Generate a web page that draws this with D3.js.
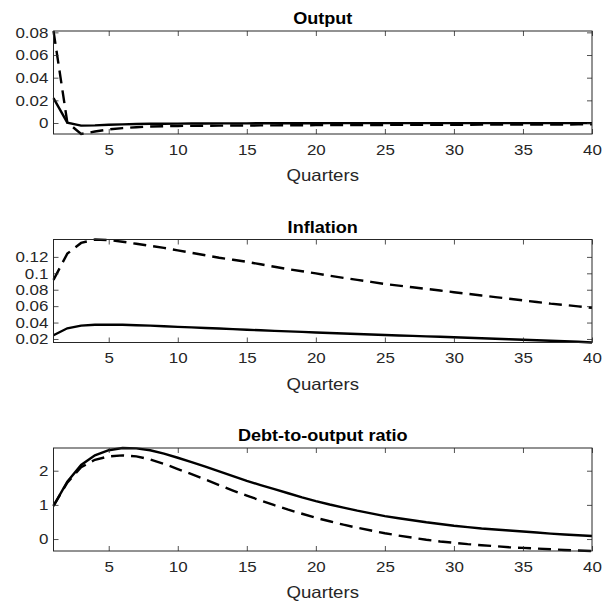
<!DOCTYPE html>
<html>
<head>
<meta charset="utf-8">
<title>Impulse responses</title>
<script src="https://d3js.org/d3.v7.min.js"></script>
<style>
  body { margin: 0; background: white; }
  text { font-family: "Liberation Sans", Arial, Helvetica, sans-serif; fill: #262626; }
  .title { font-weight: bold; fill: #000; }
</style>
</head>
<body>
<script>
// quarters 1..40
var quarters = d3.range(1, 41);

// output
var outputSolid = [0.022, 0.0003, -0.0023, -0.0021, -0.0016, -0.0012, -0.0009, -0.0007, -0.0006, -0.0005,
  -0.0004, -0.0004, -0.0003, -0.0003, -0.0003, -0.0002, -0.0002, -0.0002, -0.0002, -0.0002,
  -0.0001, -0.0001, -0.0001, -0.0001, -0.0001, -0.0001, -0.0001, -0.0001, -0.0001, -0.0001,
  -0.0001, -0.0001, -0.0001, -0.0001, -0.0001, -0.0001, -0.0001, -0.0001, -0.0001, -0.0001];
var outputDashed = [0.0812, 0.0005, -0.0097, -0.0075, -0.0057, -0.0045, -0.0037, -0.0031, -0.0028, -0.0026,
  -0.0025, -0.0024, -0.0023, -0.0022, -0.0022, -0.0021, -0.0021, -0.002, -0.002, -0.0019,
  -0.0019, -0.0018, -0.0018, -0.0017, -0.0017, -0.0016, -0.0016, -0.0016, -0.0015, -0.0015,
  -0.0015, -0.0014, -0.0014, -0.0014, -0.0013, -0.0013, -0.0013, -0.0013, -0.0012, -0.0012];

// inflation
var inflSolid = [0.0245, 0.033, 0.0363, 0.0373, 0.0375, 0.0373, 0.0368, 0.0362, 0.0355, 0.0348,
  0.0341, 0.0334, 0.0327, 0.032, 0.0313, 0.0306, 0.0299, 0.0292, 0.0286, 0.0279,
  0.0273, 0.0267, 0.0261, 0.0255, 0.0249, 0.0243, 0.0238, 0.0232, 0.0227, 0.0221,
  0.0215, 0.0209, 0.0203, 0.0197, 0.0191, 0.0185, 0.0179, 0.0173, 0.0166, 0.0157];
var inflDashed = [0.092, 0.124, 0.137, 0.1412, 0.1405, 0.1385, 0.136, 0.1335, 0.131, 0.128,
  0.125, 0.122, 0.119, 0.1165, 0.114, 0.111, 0.108, 0.105, 0.1025, 0.1,
  0.097, 0.0945, 0.092, 0.0895, 0.087, 0.085, 0.083, 0.081, 0.079, 0.077,
  0.075, 0.073, 0.071, 0.069, 0.067, 0.065, 0.063, 0.0615, 0.0597, 0.058];

// debt-to-output ratio
var debtSolid = [0.97, 1.68, 2.17, 2.45, 2.6, 2.665, 2.655, 2.6, 2.5, 2.38,
  2.25, 2.12, 1.98, 1.84, 1.7, 1.58, 1.46, 1.34, 1.22, 1.11,
  1.01, 0.92, 0.83, 0.75, 0.67, 0.61, 0.55, 0.49, 0.44, 0.39,
  0.35, 0.31, 0.28, 0.25, 0.22, 0.19, 0.16, 0.135, 0.11, 0.09];
var debtDashed = [0.97, 1.65, 2.1, 2.32, 2.42, 2.45, 2.42, 2.33, 2.2, 2.05,
  1.9, 1.74, 1.58, 1.42, 1.27, 1.13, 0.99, 0.86, 0.74, 0.62,
  0.52, 0.42, 0.33, 0.25, 0.17, 0.1, 0.04, -0.02, -0.07, -0.11,
  -0.15, -0.18, -0.21, -0.24, -0.26, -0.28, -0.3, -0.32, -0.335, -0.35];

var xTicks = [5, 10, 15, 20, 25, 30, 35, 40];
var outputTicks = [0, 0.02, 0.04, 0.06, 0.08];
var inflTicks = [0.02, 0.04, 0.06, 0.08, 0.1, 0.12];
var debtTicks = [0, 1, 2];

var panels = [
  {title: "Output", solid: outputSolid, dashed: outputDashed, ticks: outputTicks},
  {title: "Inflation", solid: inflSolid, dashed: inflDashed, ticks: inflTicks},
  {title: "Debt-to-output ratio", solid: debtSolid, dashed: debtDashed, ticks: debtTicks}
];

var width = 611, height = 603;
var left = 53.5, right = 592;
var top0 = 31, step = 208.5, ph = 103;
var tick = 5;
var stretch = 1.13; // the picture's text is a bit wide

var svg = d3.select("body").append("svg")
  .attr("width", width)
  .attr("height", height);

var x = d3.scaleLinear().domain([1, 40]).range([left, right]);
var fmt = d3.format("~g");

panels.forEach(function(p, i) {
  var t = top0 + i * step;
  var all = p.solid.concat(p.dashed);
  var y = d3.scaleLinear().domain(d3.extent(all)).range([t + ph, t]);

  var g = svg.append("g");

  var line = d3.line()
    .x(function(d, k) { return x(quarters[k]); })
    .y(function(d) { return y(d); });

  g.append("path")
    .attr("d", line(p.dashed))
    .attr("fill", "none")
    .attr("stroke", "black")
    .attr("stroke-width", 2.4)
    .attr("stroke-dasharray", "13,7");

  g.append("path")
    .attr("d", line(p.solid))
    .attr("fill", "none")
    .attr("stroke", "black")
    .attr("stroke-width", 2.4);

  // axes, ticks inside
  var ax = [
    g.append("g").attr("transform", "translate(0," + (t + ph) + ")")
      .call(d3.axisBottom(x).tickValues(xTicks).tickSize(-tick).tickSizeOuter(0).tickPadding(10).tickFormat(d3.format("d"))),
    g.append("g").attr("transform", "translate(0," + t + ")")
      .call(d3.axisTop(x).tickValues(xTicks).tickSize(-tick).tickSizeOuter(0).tickFormat("")),
    g.append("g").attr("transform", "translate(" + left + ",0)")
      .call(d3.axisLeft(y).tickValues(p.ticks).tickSize(-tick).tickSizeOuter(0).tickPadding(4.5).tickFormat(fmt)),
    g.append("g").attr("transform", "translate(" + right + ",0)")
      .call(d3.axisRight(y).tickValues(p.ticks).tickSize(-tick).tickSizeOuter(0).tickFormat(""))
  ];
  ax.forEach(function(a) {
    a.select(".domain").remove();
    a.selectAll("line").attr("stroke", "#262626").attr("stroke-width", 0.8);
    a.selectAll("text")
      .style("font-size", "15px")
      .attr("fill", "#262626")
      .attr("transform", "scale(" + stretch + ",1)");
  });

  g.append("rect")
    .attr("x", left).attr("y", t)
    .attr("width", right - left).attr("height", ph)
    .attr("fill", "none")
    .attr("stroke", "#262626")
    .attr("stroke-width", 1);

  g.append("text")
    .attr("class", "title")
    .attr("transform", "translate(" + ((left + right) / 2) + "," + (t - 7) + ") scale(" + stretch + ",1)")
    .attr("text-anchor", "middle")
    .style("font-size", "16px")
    .text(p.title);

  g.append("text")
    .attr("transform", "translate(" + ((left + right) / 2) + "," + (t + ph + 47) + ") scale(" + stretch + ",1)")
    .attr("text-anchor", "middle")
    .style("font-size", "16.5px")
    .text("Quarters");
});
</script>
</body>
</html>
